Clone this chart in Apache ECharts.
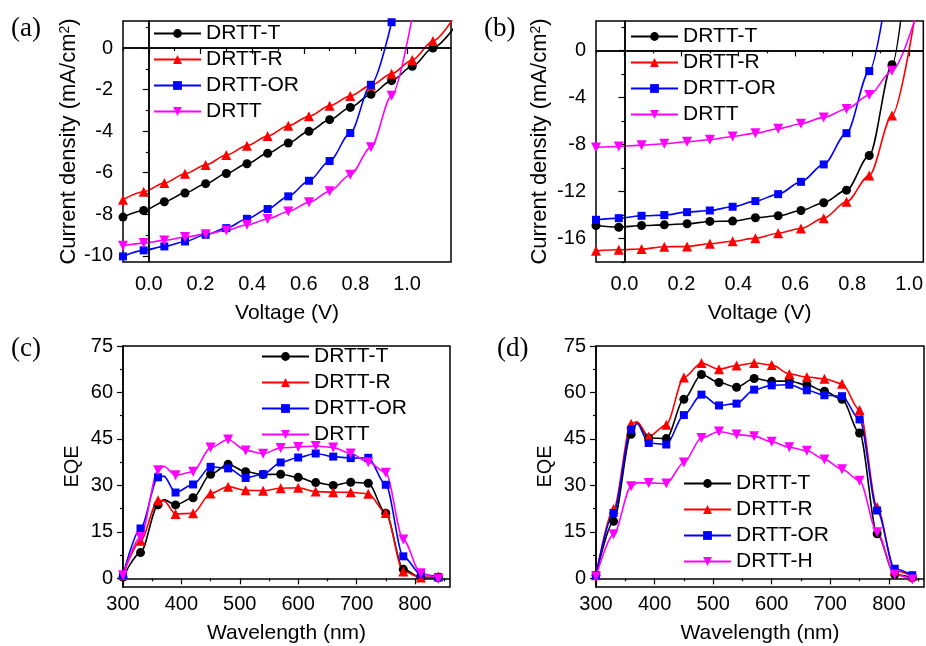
<!DOCTYPE html>
<html>
<head>
<meta charset="utf-8">
<script src="https://cdn.jsdelivr.net/npm/echarts@6/dist/echarts.min.js"></script>
<style>
  html, body { margin: 0; padding: 0; background: #fff; }
  #main { width: 926px; height: 646px; }
</style>
</head>
<body>
<div id="main"></div>
<script>
// ---- data ----
var voltA = [-0.1, -0.02, 0.06, 0.14, 0.22, 0.30, 0.38, 0.46, 0.54, 0.62, 0.70, 0.78, 0.86, 0.94, 1.02, 1.10, 1.18];
var aT  = [-8.14, -7.82, -7.40, -6.98, -6.53, -6.04, -5.57, -5.07, -4.57, -4.01, -3.45, -2.86, -2.23, -1.57, -0.88, 0.0, 0.95];
var aR  = [-7.30, -6.92, -6.50, -6.05, -5.63, -5.15, -4.70, -4.24, -3.74, -3.29, -2.78, -2.31, -1.80, -1.24, -0.58, 0.34, 1.45];
var aOR = [-10.03, -9.74, -9.55, -9.31, -8.99, -8.67, -8.22, -7.75, -7.14, -6.39, -5.44, -4.09, -1.77, 1.24];
var aD  = [-9.52, -9.39, -9.26, -9.10, -8.96, -8.78, -8.51, -8.23, -7.87, -7.43, -6.90, -6.10, -4.78, -2.30, 1.5];

var voltB = [-0.1, -0.02, 0.06, 0.14, 0.22, 0.30, 0.38, 0.46, 0.54, 0.62, 0.70, 0.78, 0.86, 0.94, 1.02];
var bT  = [-14.90, -15.04, -14.90, -14.84, -14.75, -14.55, -14.52, -14.24, -14.07, -13.62, -12.96, -11.89, -8.94, -1.22, 14];
var bR  = [-17.05, -16.96, -16.90, -16.70, -16.68, -16.45, -16.23, -15.97, -15.55, -15.15, -14.27, -12.88, -10.64, -5.53, 2.8];
var bOR = [-14.41, -14.27, -14.07, -14.01, -13.76, -13.62, -13.30, -12.82, -12.23, -11.18, -9.70, -7.04, -1.76, 8.0];
var bD  = [-8.26, -8.17, -8.06, -7.94, -7.77, -7.60, -7.32, -7.04, -6.67, -6.24, -5.70, -4.99, -3.80, -1.73, 2.6];

var wl = [300, 330, 360, 370, 390, 420, 450, 480, 510, 540, 570, 600, 630, 660, 690, 720, 750, 780, 810, 840];
var unmarked = [370];
var cT  = [0.4, 8.3, 23.7, 25.4, 23.7, 26.0, 33.6, 36.8, 34.4, 33.5, 33.6, 32.6, 30.9, 30.0, 31.0, 30.7, 21.0, 2.9, 0.3, 0.2];
var cR  = [1.0, 12.1, 25.2, 25.0, 20.8, 21.0, 27.4, 29.6, 28.4, 28.3, 29.1, 29.2, 28.0, 27.8, 27.8, 27.3, 21.1, 2.2, 0.3, 0.6];
var cOR = [1.0, 16.1, 32.6, 33.0, 27.7, 30.3, 36.0, 35.5, 32.4, 33.6, 37.4, 39.0, 40.3, 39.3, 38.8, 38.9, 30.2, 7.1, 1.3, 0.4];
var cD  = [1.0, 13.3, 34.9, 36.2, 33.3, 34.4, 42.2, 44.8, 41.3, 40.2, 42.1, 42.4, 42.7, 42.2, 40.3, 37.5, 34.1, 12.5, 1.6, -0.2];

var dT  = [1.0, 18.4, 46.5, 50.2, 45.3, 45.1, 57.8, 65.8, 63.2, 61.7, 64.5, 63.6, 63.7, 62.4, 60.4, 57.8, 46.9, 14.4, 1.2, 0.2];
var dR  = [1.0, 22.4, 49.9, 50.5, 45.8, 49.6, 64.8, 69.5, 67.5, 68.7, 69.5, 68.9, 66.0, 65.0, 64.4, 62.8, 54.3, 23.0, 2.5, 0.8];
var dOR = [1.0, 21.1, 48.0, 50.0, 43.7, 43.2, 52.7, 59.3, 55.8, 56.4, 60.9, 62.3, 62.5, 60.7, 59.1, 58.8, 51.3, 21.9, 3.1, 1.0];
var dH  = [0.6, 14.2, 29.7, 30.8, 30.8, 30.6, 37.4, 45.3, 47.4, 46.4, 45.9, 44.1, 42.3, 41.2, 38.4, 35.2, 31.5, 14.9, 1.2, -0.4];

// tick values
var jvTicksX   = [0, 0.2, 0.4, 0.6, 0.8, 1.0];
var jvMinorX   = [-0.1, 0.1, 0.3, 0.5, 0.7, 0.9, 1.1];
var aTicksY    = [-10, -8, -6, -4, -2, 0];
var aMinorY    = [-9, -7, -5, -3, -1, 1];
var bTicksY    = [-16, -12, -8, -4, 0];
var bMinorY    = [-18, -14, -10, -6, -2, 2];
var wlTicks    = [300, 400, 500, 600, 700, 800];
var wlMinor    = [350, 450, 550, 650, 750, 850];
var eqeTicks   = [0, 15, 30, 45, 60, 75];
var eqeMinor   = [7.5, 22.5, 37.5, 52.5, 67.5];

var legendA = ['DRTT-T', 'DRTT-R', 'DRTT-OR', 'DRTT'];
var legendD = ['DRTT-T', 'DRTT-R', 'DRTT-OR', 'DRTT-H'];

// ---- chart ----
var FONT = 'Liberation Sans, Arial, sans-serif';
var BLACK = '#000', RED = '#ff0000', BLUE = '#0000ff', MAGENTA = '#ff00ff';
var DOWN_TRI = 'path://M0,0L10,0L5,9Z';
var JV_NAME = 'Current density (mA/cm{sup|2})';

var grids = [
  {left: 123, top: 21, width: 328, height: 241},
  {left: 596, top: 21, width: 328, height: 241},
  {left: 123, top: 346, width: 327, height: 241},
  {left: 596, top: 346, width: 328, height: 241}
];
grids.forEach(function (g) { g.show = true; g.borderColor = '#000'; g.borderWidth = 1.5; });

// main axis (labels + long ticks) and an overlaid one for the short ticks
function axes(dim, gi, min, max, major, minor, fmt, name, gap, margin, nameSize) {
  var pos = dim === 'x' ? 'bottom' : 'left';
  var main = {
    type: 'value', gridIndex: gi, min: min, max: max, position: pos,
    name: name, nameLocation: 'middle', nameGap: gap,
    nameTextStyle: {
      fontFamily: FONT, fontSize: nameSize, color: '#000',
      rich: {sup: {fontFamily: FONT, fontSize: 14, color: '#000', verticalAlign: 'top', padding: [0, 0, 8, 0]}}
    },
    axisLine: {show: true, lineStyle: {color: '#000', width: 1.5}},
    axisTick: {show: true, length: 6, customValues: major, lineStyle: {color: '#000', width: 1.2}},
    axisLabel: {customValues: major, formatter: fmt, margin: margin,
                fontFamily: FONT, fontSize: 20, color: '#000'},
    splitLine: {show: false}
  };
  var sub = {
    type: 'value', gridIndex: gi, min: min, max: max, position: pos, offset: 0,
    axisLine: {show: false},
    axisTick: {show: true, length: 3, customValues: minor, lineStyle: {color: '#000', width: 1.2}},
    axisLabel: {show: false},
    splitLine: {show: false}
  };
  return [main, sub];
}
function f1(v) { return v.toFixed(1); }
function f0(v) { return String(Math.round(v)); }

var xAxes = [].concat(
  axes('x', 0, -0.1, 1.17, jvTicksX, jvMinorX, f1, 'Voltage (V)', 41, 12, 21),
  axes('x', 1, -0.1, 1.05, jvTicksX, jvMinorX, f1, 'Voltage (V)', 41, 12, 21),
  axes('x', 2, 300, 860, wlTicks, wlMinor, f0, 'Wavelength (nm)', 36, 7, 21),
  axes('x', 3, 300, 860, wlTicks, wlMinor, f0, 'Wavelength (nm)', 36, 7, 21)
);
var yAxes = [].concat(
  axes('y', 0, -10.3, 1.3, aTicksY, aMinorY, f0, JV_NAME, 43, 10, 22),
  axes('y', 1, -18, 2.5, bTicksY, bMinorY, f0, JV_NAME, 45, 10, 22),
  axes('y', 2, -2.8, 75, eqeTicks, eqeMinor, f0, 'EQE', 41, 10, 20),
  axes('y', 3, -2.8, 75, eqeTicks, eqeMinor, f0, 'EQE', 41, 10, 20)
);

function jv(volt, vals) { return vals.map(function (v, i) { return [volt[i], v]; }); }
function eqe(vals) {
  return vals.map(function (v, i) {
    return unmarked.indexOf(wl[i]) >= 0 ? {value: [wl[i], v], symbol: 'none'} : [wl[i], v];
  });
}
function line(name, color, sym, size, data, gi) {
  return {
    type: 'line', name: name, data: data, xAxisIndex: 2 * gi, yAxisIndex: 2 * gi,
    smooth: 0.3, smoothMonotone: 'x', clip: true,
    symbol: sym, symbolSize: size,
    lineStyle: {color: color, width: 1.6}, itemStyle: {color: color},
    animation: false
  };
}
function zeroLines() {
  return {
    silent: true, symbol: ['none', 'none'], label: {show: false}, animation: false,
    lineStyle: {color: '#000', type: 'solid', width: 1.5},
    data: [{xAxis: 0}, {yAxis: 0}]
  };
}

var series = [
  line('DRTT-T', BLACK, 'circle', 9, jv(voltA, aT), 0),
  line('DRTT-R', RED, 'triangle', 10, jv(voltA, aR), 0),
  line('DRTT-OR', BLUE, 'rect', 8, jv(voltA, aOR), 0),
  line('DRTT', MAGENTA, DOWN_TRI, 10, jv(voltA, aD), 0),

  line('DRTT-T', BLACK, 'circle', 9, jv(voltB, bT), 1),
  line('DRTT-R', RED, 'triangle', 10, jv(voltB, bR), 1),
  line('DRTT-OR', BLUE, 'rect', 8, jv(voltB, bOR), 1),
  line('DRTT', MAGENTA, DOWN_TRI, 10, jv(voltB, bD), 1),

  line('DRTT-T', BLACK, 'circle', 9, eqe(cT), 2),
  line('DRTT-R', RED, 'triangle', 10, eqe(cR), 2),
  line('DRTT-OR', BLUE, 'rect', 8, eqe(cOR), 2),
  line('DRTT', MAGENTA, DOWN_TRI, 10, eqe(cD), 2),

  line('DRTT-T', BLACK, 'circle', 9, eqe(dT), 3),
  line('DRTT-R', RED, 'triangle', 10, eqe(dR), 3),
  line('DRTT-OR', BLUE, 'rect', 8, eqe(dOR), 3),
  line('DRTT-H', MAGENTA, DOWN_TRI, 10, eqe(dH), 3)
];
series[0].markLine = zeroLines();
series[4].markLine = zeroLines();

function legend(names, left, top) {
  return {
    data: names, left: left, top: top, orient: 'vertical', padding: 0,
    itemWidth: 47, itemHeight: 11, itemGap: 5, selectedMode: false,
    textStyle: {fontFamily: FONT, fontSize: 21, lineHeight: 21, color: '#000'}
  };
}

function panelLabel(txt, x, y) {
  return {type: 'text', left: x, top: y, silent: true,
          style: {text: txt, font: '27px "Liberation Serif", "Times New Roman", serif', fill: '#000'}};
}

var myChart = echarts.init(document.getElementById('main'));
var option = {
  backgroundColor: '#fff',
  animation: false,
  grid: grids,
  xAxis: xAxes,
  yAxis: yAxes,
  legend: [
    legend(legendA, 153, 23),
    legend(legendA, 630, 26),
    legend(legendA, 261, 346),
    legend(legendD, 683, 473)
  ],
  graphic: [
    panelLabel('(a)', 11, 15),
    panelLabel('(b)', 484, 15),
    panelLabel('(c)', 11, 335),
    panelLabel('(d)', 497, 335)
  ],
  series: series
};
myChart.setOption(option);
</script>
</body>
</html>
